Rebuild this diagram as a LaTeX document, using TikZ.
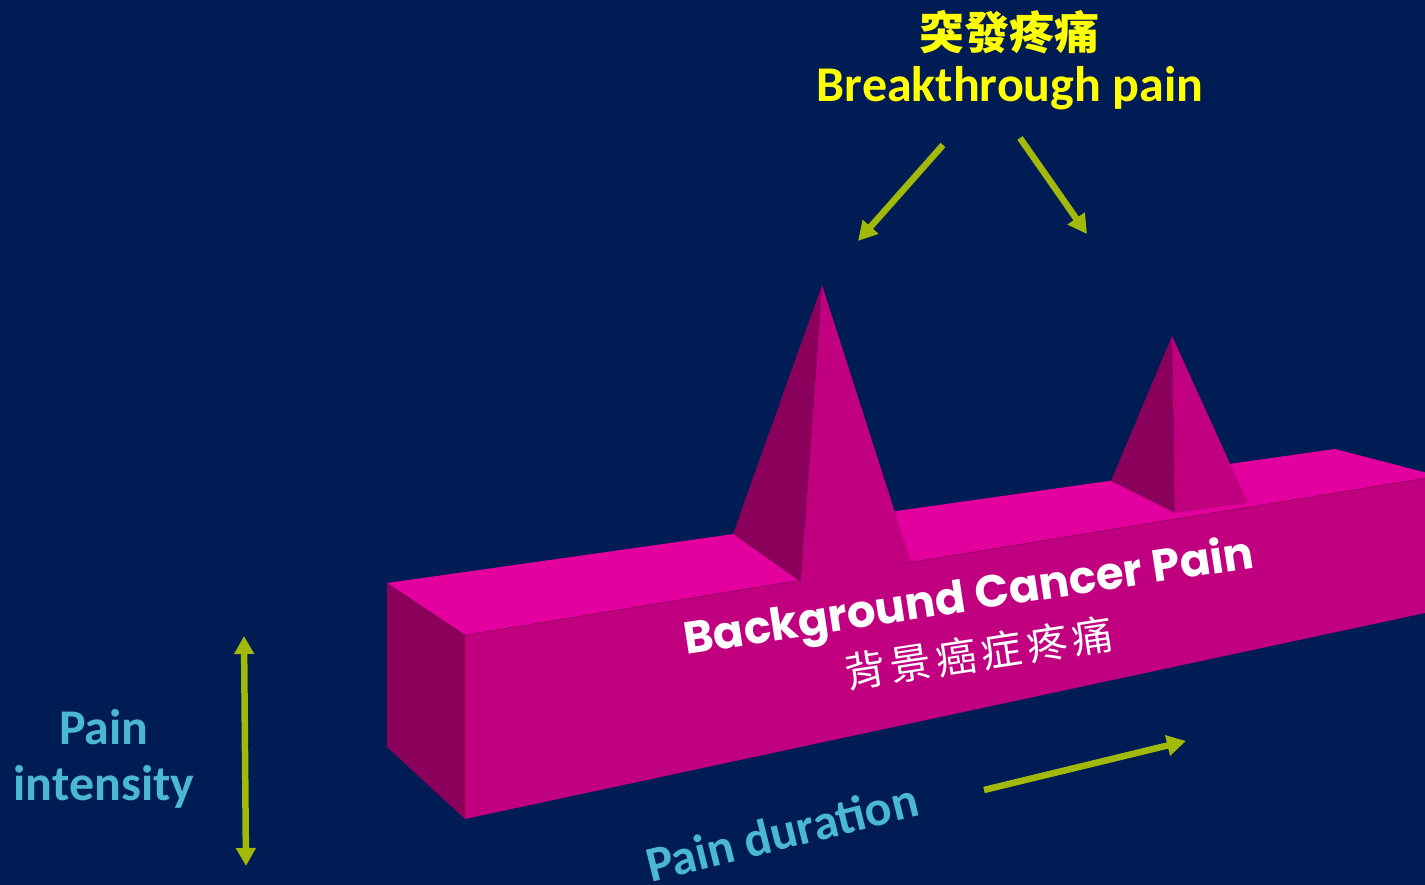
\documentclass[tikz,border=0pt]{standalone}
\usepackage{fontspec}
\setmainfont{Carlito}
\newfontfamily\pop{Poppins}
\newfontfamily\cjk{Noto Sans CJK TC}
\newfontfamily\cjkwide{Noto Sans CJK TC}[LetterSpace=12]
\usetikzlibrary{arrows.meta}
\definecolor{bgnavy}{HTML}{001C54}
\definecolor{topface}{HTML}{E3009F}
\definecolor{frontface}{HTML}{C1007F}
\definecolor{sideface}{HTML}{8B005A}
\definecolor{arrowgreen}{HTML}{A2B90A}
\definecolor{labelcyan}{HTML}{4BB8D2}
\definecolor{titleyellow}{HTML}{FFFF00}
\tikzset{
  greenarrow/.style={draw=arrowgreen, line width=6.5pt, -{Triangle[length=19pt,width=20pt]}},
  greenboth/.style={draw=arrowgreen, line width=6.5pt, {Triangle[length=18pt,width=19pt]}-{Triangle[length=18pt,width=19pt]}},
  cyanlabel/.style={text=labelcyan, font=\bfseries\fontsize{50}{57}\selectfont, inner sep=0pt},
  yellowlabel/.style={text=titleyellow, inner sep=0pt},
  whitelabel/.style={text=white, inner sep=0pt},
}
\begin{document}
\begin{tikzpicture}[x=1pt,y=-1pt]
\useasboundingbox (0,0) rectangle (1425,885);
\clip (0,0) rectangle (1425,885);
\fill[bgnavy] (0,0) rectangle (1425,885);
% box
\fill[topface] (387,583) -- (1335,449) -- (1439,476) -- (465,635) -- cycle;
\fill[frontface] (465,635) -- (1439,476) -- (1439,610) -- (465,819) -- cycle;
\fill[sideface] (387,583) -- (465,635) -- (465,819) -- (387,747) -- cycle;
\draw[sideface!80!frontface, line width=0.6pt] (465,635) -- (1439,476);
% pyramid 1
\fill[sideface] (822,285) -- (733,534) -- (801,582) -- cycle;
\fill[frontface] (822,285) -- (801,582) -- (911,562) -- cycle;
% pyramid 2
\fill[sideface] (1172,336) -- (1111,481) -- (1175,513) -- cycle;
\fill[frontface] (1172,336) -- (1175,513) -- (1248,503) -- cycle;
% texts
\node[yellowlabel, font=\cjk\bfseries\fontsize{45}{45}\selectfont] (btzh) at (1009,32) {突發疼痛};
\node[yellowlabel, font=\bfseries\fontsize{50}{50}\selectfont, anchor=base] (bten) at (1010,102) {Breakthrough pain};
\node[whitelabel, font=\pop\bfseries\fontsize{45}{45}\selectfont, anchor=base, rotate=8.7] (bgen) at (971,611) {Background Cancer Pain};
\node[whitelabel, font=\cjkwide\fontsize{41}{41}\selectfont, rotate=8.7] (bgzh) at (979,653) {背景癌症疼痛};
\node[cyanlabel, anchor=base] (pi1) at (104,744) {Pain};
\node[cyanlabel, anchor=base] (pi2) at (104,800) {intensity};
\node[cyanlabel, anchor=base, rotate=14] (pd) at (786,849) {Pain duration};
% arrows
\coordinate (la0) at (943,145);
\coordinate (la1) at (858,241);
\coordinate (ra0) at (1020,138);
\coordinate (ra1) at (1087,234);
\coordinate (ia0) at (244,636);
\coordinate (ia1) at (246,866);
\coordinate (da0) at (984,790);
\coordinate (da1) at (1186,741);
\draw[greenarrow] (la0) -- (la1);
\draw[greenarrow] (ra0) -- (ra1);
\draw[greenboth] (ia0) -- (ia1);
\draw[greenarrow] (da0) -- (da1);
\end{tikzpicture}
\end{document}
